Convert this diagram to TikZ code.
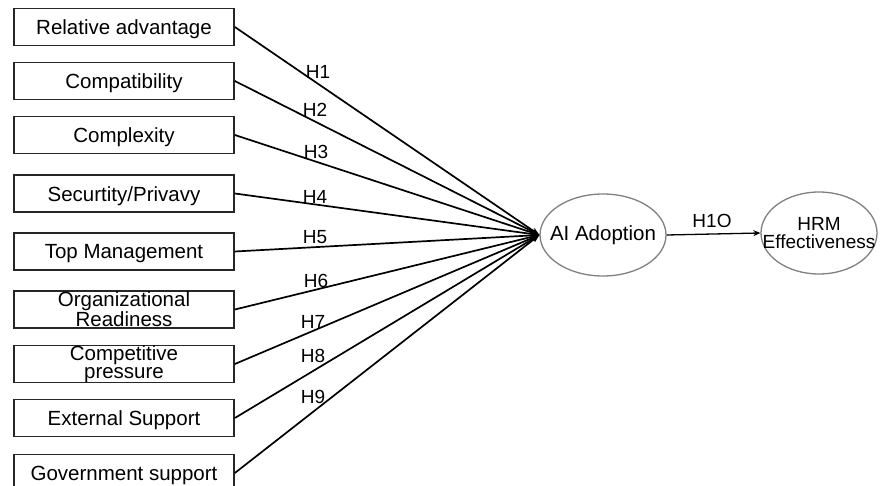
\documentclass[tikz,border=0pt]{standalone}
\usepackage{fontspec}
\setmainfont{Liberation Sans}
\usetikzlibrary{arrows.meta,shapes.geometric}
\begin{document}
\begin{tikzpicture}[x=1pt,y=-1pt,
  boxbase/.style={draw=black!85,line width=1.7pt,minimum width=220pt,minimum height=37pt,inner sep=0pt},
  fbox/.style={boxbase,
    label={[font=\fontsize{20.5}{18.5}\selectfont,align=center,yshift=-2.5pt,inner sep=0pt]center:#1}},
  fboxtwo/.style={boxbase,
    label={[font=\fontsize{20.5}{18.5}\selectfont,align=center,yshift=0pt,inner sep=0pt]center:#1}},
  ell/.style={draw=black!50,line width=1.3pt,ellipse,inner sep=0pt,
    label={[font=\fontsize{20.5}{18.5}\selectfont,align=center,inner sep=0pt]center:#1}},
  conn/.style={line width=1.7pt,-{Stealth[length=8pt,width=6pt]}},
  hl/.style={font=\fontsize{19}{19}\selectfont,inner sep=0pt}]
\clip (0,0) rectangle (882,486);
\useasboundingbox (0,0) rectangle (882,486);
\node[fbox={Relative advantage}] (b1) at (124,27) {};
\node[fbox={Compatibility}] (b2) at (124,81) {};
\node[fbox={Complexity}] (b3) at (124,135) {};
\node[fbox={Securtity/Privavy}] (b4) at (124,193.5) {};
\node[fbox={Top Management}] (b5) at (124,251.5) {};
\node[fboxtwo={Organizational\\Readiness}] (b6) at (124,309.5) {};
\node[fboxtwo={Competitive\\pressure}] (b7) at (124,364) {};
\node[fbox={External Support}] (b8) at (124,418) {};
\node[fbox={Government support}] (b9) at (124,473) {};
\node[ell={AI Adoption},minimum width=126pt,minimum height=82pt] (ai) at (603,235) {};
\node[draw=black!50,line width=1.3pt,ellipse,inner sep=0pt,minimum width=116pt,minimum height=82pt,
  label={[font=\fontsize{19}{18.5}\selectfont,align=center,inner sep=0pt]center:HRM\\Effectiveness}] (hrm) at (819,233) {};
\foreach \i in {1,...,9}{\draw[conn] (b\i.east) -- (ai.west);}
\draw[line width=1.3pt,-{Stealth[length=7pt,width=6pt]}] (ai.east) -- (hrm.west);
\node[hl] (h1) at (318,72) {H1};
\node[hl] (h2) at (315,110) {H2};
\node[hl] (h3) at (316,152) {H3};
\node[hl] (h4) at (315,197) {H4};
\node[hl] (h5) at (315,237) {H5};
\node[hl] (h6) at (316,281) {H6};
\node[hl] (h7) at (313,322) {H7};
\node[hl] (h8) at (313,356) {H8};
\node[hl] (h9) at (313,397) {H9};
\node[hl] (h10) at (712,221) {H1O};
\end{tikzpicture}
\end{document}
